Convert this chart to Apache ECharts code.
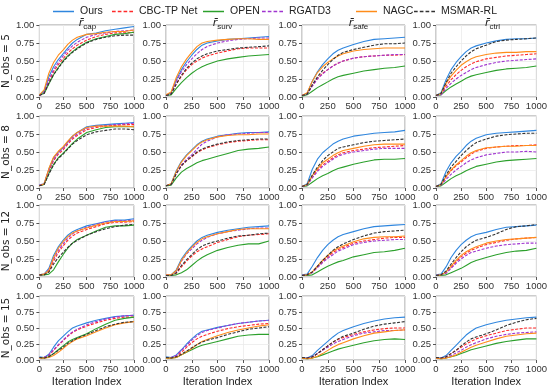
<!DOCTYPE html>
<html><head><meta charset="utf-8">
<script src="https://cdn.jsdelivr.net/npm/echarts@6/dist/echarts.min.js"></script>
<style>html,body{margin:0;padding:0;background:#fff}#c{width:550px;height:388px}</style>
</head><body><div id="c"></div>
<script>
// ---- data ----
const iters = [0,50,100,150,200,250,300,350,400,500,600,700,800,900,1000];
const methods = ['Ours','CBC-TP Net','OPEN','RGATD3','NAGC','MSMAR-RL'];
const rowLabels = ['N_obs = 5','N_obs = 8','N_obs = 12','N_obs = 15'];
const metricSubs = ['cap','surv','safe','ctrl'];
const xTickStep = 250;
const yTickStep = 0.25;
const xAxisTitle = 'Iteration Index';

// each panel: rows in method order (Ours, CBC-TP Net, OPEN, RGATD3, NAGC, MSMAR-RL)
const n5_cap = [
 [0.03,0.08,0.28,0.42,0.52,0.60,0.68,0.75,0.80,0.87,0.89,0.92,0.94,0.96,0.98],
 [0.02,0.06,0.22,0.35,0.45,0.53,0.61,0.67,0.72,0.79,0.84,0.87,0.89,0.89,0.90],
 [0.03,0.05,0.18,0.31,0.41,0.50,0.57,0.63,0.68,0.76,0.81,0.84,0.87,0.88,0.90],
 [0.02,0.06,0.24,0.38,0.48,0.57,0.65,0.71,0.76,0.83,0.87,0.89,0.91,0.92,0.93],
 [0.03,0.10,0.33,0.48,0.58,0.65,0.73,0.79,0.83,0.87,0.88,0.90,0.91,0.91,0.93],
 [0.02,0.05,0.19,0.31,0.40,0.49,0.56,0.62,0.67,0.75,0.80,0.83,0.85,0.86,0.86]];
const n5_surv = [
 [0.02,0.06,0.24,0.38,0.49,0.58,0.66,0.72,0.75,0.78,0.80,0.81,0.82,0.83,0.84],
 [0.02,0.04,0.18,0.29,0.38,0.45,0.50,0.54,0.57,0.61,0.64,0.67,0.68,0.68,0.68],
 [0.02,0.03,0.12,0.20,0.27,0.33,0.38,0.42,0.45,0.50,0.53,0.55,0.57,0.58,0.59],
 [0.02,0.05,0.22,0.35,0.45,0.53,0.60,0.66,0.70,0.75,0.78,0.80,0.81,0.82,0.82],
 [0.03,0.07,0.27,0.42,0.53,0.62,0.70,0.75,0.77,0.79,0.80,0.81,0.81,0.80,0.80],
 [0.02,0.04,0.18,0.30,0.40,0.47,0.53,0.57,0.60,0.64,0.66,0.68,0.69,0.70,0.71]];
const n5_safe = [
 [0.02,0.05,0.22,0.35,0.45,0.53,0.60,0.65,0.68,0.73,0.77,0.80,0.81,0.82,0.83],
 [0.02,0.04,0.16,0.26,0.33,0.38,0.43,0.47,0.50,0.54,0.56,0.57,0.58,0.58,0.59],
 [0.01,0.03,0.08,0.13,0.17,0.21,0.25,0.28,0.30,0.33,0.36,0.38,0.40,0.41,0.43],
 [0.02,0.04,0.15,0.25,0.32,0.38,0.43,0.47,0.50,0.54,0.56,0.57,0.58,0.59,0.59],
 [0.02,0.06,0.22,0.34,0.42,0.48,0.53,0.57,0.60,0.64,0.66,0.67,0.68,0.68,0.68],
 [0.02,0.04,0.17,0.28,0.37,0.45,0.52,0.58,0.62,0.66,0.69,0.72,0.74,0.74,0.75]];
const n5_ctrl = [
 [0.02,0.06,0.24,0.38,0.48,0.56,0.63,0.68,0.71,0.75,0.78,0.80,0.81,0.81,0.82],
 [0.02,0.04,0.15,0.24,0.31,0.37,0.42,0.46,0.49,0.53,0.55,0.57,0.58,0.59,0.60],
 [0.02,0.03,0.09,0.14,0.18,0.22,0.26,0.29,0.31,0.34,0.37,0.39,0.40,0.41,0.43],
 [0.02,0.03,0.12,0.19,0.25,0.30,0.34,0.38,0.41,0.45,0.48,0.50,0.51,0.52,0.53],
 [0.02,0.05,0.19,0.29,0.37,0.44,0.49,0.53,0.56,0.59,0.61,0.62,0.62,0.63,0.63],
 [0.02,0.05,0.20,0.33,0.42,0.50,0.57,0.63,0.67,0.72,0.77,0.79,0.80,0.81,0.82]];
const n8_cap = [
 [0.04,0.06,0.26,0.42,0.50,0.56,0.64,0.72,0.77,0.85,0.87,0.88,0.89,0.90,0.91],
 [0.03,0.05,0.23,0.38,0.47,0.53,0.61,0.68,0.73,0.81,0.84,0.86,0.87,0.88,0.88],
 [0.03,0.05,0.20,0.33,0.42,0.48,0.55,0.62,0.68,0.77,0.81,0.84,0.85,0.85,0.85],
 [0.04,0.06,0.25,0.40,0.49,0.55,0.63,0.70,0.75,0.83,0.86,0.87,0.88,0.89,0.90],
 [0.03,0.06,0.27,0.43,0.51,0.57,0.65,0.72,0.77,0.84,0.86,0.86,0.86,0.86,0.85],
 [0.03,0.05,0.19,0.32,0.41,0.47,0.54,0.61,0.66,0.74,0.78,0.80,0.82,0.82,0.81]];
const n8_surv = [
 [0.03,0.06,0.24,0.37,0.46,0.53,0.60,0.65,0.68,0.72,0.74,0.76,0.77,0.77,0.78],
 [0.03,0.05,0.20,0.31,0.38,0.43,0.49,0.53,0.56,0.60,0.63,0.65,0.66,0.67,0.67],
 [0.03,0.04,0.14,0.22,0.27,0.31,0.35,0.38,0.40,0.44,0.48,0.52,0.54,0.55,0.57],
 [0.03,0.05,0.20,0.32,0.40,0.46,0.54,0.61,0.65,0.71,0.74,0.75,0.76,0.77,0.77],
 [0.03,0.06,0.23,0.36,0.45,0.52,0.59,0.64,0.67,0.71,0.73,0.74,0.74,0.75,0.75],
 [0.03,0.05,0.20,0.31,0.38,0.44,0.50,0.54,0.57,0.61,0.64,0.66,0.67,0.68,0.68]];
const n8_safe = [
 [0.02,0.06,0.26,0.40,0.49,0.55,0.61,0.65,0.68,0.72,0.74,0.76,0.77,0.78,0.80],
 [0.02,0.04,0.15,0.25,0.32,0.37,0.42,0.46,0.49,0.52,0.54,0.56,0.57,0.58,0.59],
 [0.02,0.03,0.08,0.13,0.17,0.20,0.24,0.27,0.29,0.33,0.36,0.39,0.40,0.40,0.41],
 [0.02,0.04,0.14,0.23,0.30,0.35,0.40,0.44,0.47,0.50,0.52,0.54,0.55,0.55,0.55],
 [0.02,0.05,0.17,0.27,0.35,0.40,0.45,0.49,0.52,0.55,0.58,0.60,0.61,0.61,0.61],
 [0.02,0.05,0.18,0.29,0.38,0.45,0.50,0.55,0.57,0.60,0.63,0.65,0.66,0.67,0.68]];
const n8_ctrl = [
 [0.02,0.06,0.23,0.35,0.44,0.51,0.59,0.65,0.69,0.74,0.76,0.77,0.78,0.79,0.80],
 [0.02,0.04,0.15,0.24,0.31,0.36,0.42,0.47,0.51,0.55,0.57,0.58,0.59,0.59,0.60],
 [0.02,0.03,0.08,0.13,0.17,0.20,0.24,0.27,0.30,0.33,0.36,0.38,0.39,0.40,0.41],
 [0.02,0.04,0.12,0.19,0.25,0.30,0.35,0.39,0.42,0.46,0.48,0.50,0.50,0.51,0.50],
 [0.02,0.05,0.16,0.25,0.32,0.38,0.44,0.49,0.52,0.56,0.57,0.58,0.58,0.59,0.59],
 [0.02,0.05,0.18,0.29,0.37,0.45,0.52,0.58,0.63,0.68,0.72,0.74,0.75,0.76,0.76]];
const n12_cap = [
 [0.03,0.04,0.12,0.30,0.42,0.51,0.58,0.63,0.66,0.71,0.74,0.77,0.79,0.79,0.81],
 [0.03,0.03,0.07,0.22,0.34,0.43,0.51,0.57,0.61,0.66,0.70,0.74,0.76,0.76,0.77],
 [0.03,0.03,0.04,0.10,0.21,0.31,0.40,0.47,0.52,0.58,0.64,0.69,0.71,0.71,0.72],
 [0.03,0.04,0.10,0.25,0.37,0.46,0.54,0.60,0.64,0.69,0.73,0.76,0.78,0.78,0.79],
 [0.03,0.04,0.09,0.27,0.40,0.49,0.56,0.61,0.64,0.68,0.72,0.75,0.77,0.77,0.78],
 [0.03,0.03,0.07,0.18,0.27,0.34,0.41,0.47,0.51,0.58,0.63,0.67,0.70,0.72,0.73]];
const n12_surv = [
 [0.03,0.03,0.10,0.25,0.35,0.43,0.50,0.55,0.58,0.62,0.65,0.67,0.69,0.70,0.71],
 [0.02,0.02,0.05,0.14,0.22,0.29,0.35,0.39,0.42,0.48,0.52,0.56,0.58,0.59,0.60],
 [0.02,0.02,0.03,0.06,0.10,0.16,0.22,0.27,0.31,0.37,0.41,0.44,0.46,0.46,0.50],
 [0.03,0.03,0.08,0.22,0.32,0.39,0.46,0.51,0.55,0.60,0.63,0.65,0.67,0.68,0.68],
 [0.03,0.03,0.09,0.23,0.33,0.41,0.48,0.53,0.56,0.60,0.63,0.66,0.67,0.67,0.67],
 [0.02,0.02,0.06,0.16,0.24,0.31,0.38,0.43,0.46,0.50,0.54,0.57,0.58,0.60,0.61]];
const n12_safe = [
 [0.03,0.04,0.15,0.27,0.37,0.45,0.51,0.56,0.59,0.63,0.67,0.70,0.71,0.72,0.73],
 [0.02,0.03,0.07,0.14,0.21,0.28,0.34,0.38,0.41,0.47,0.50,0.52,0.54,0.55,0.55],
 [0.02,0.02,0.03,0.07,0.11,0.15,0.18,0.21,0.23,0.28,0.31,0.34,0.35,0.37,0.40],
 [0.02,0.03,0.06,0.13,0.20,0.26,0.31,0.36,0.39,0.45,0.48,0.50,0.51,0.52,0.52],
 [0.02,0.03,0.07,0.15,0.23,0.30,0.36,0.40,0.43,0.49,0.53,0.55,0.56,0.56,0.57],
 [0.02,0.03,0.07,0.15,0.23,0.30,0.37,0.42,0.46,0.52,0.57,0.61,0.63,0.64,0.65]];
const n12_ctrl = [
 [0.03,0.04,0.14,0.27,0.37,0.45,0.51,0.56,0.59,0.62,0.66,0.69,0.70,0.71,0.72],
 [0.02,0.03,0.06,0.13,0.21,0.28,0.33,0.37,0.40,0.45,0.48,0.51,0.53,0.54,0.55],
 [0.02,0.02,0.03,0.06,0.09,0.12,0.16,0.20,0.23,0.27,0.31,0.34,0.36,0.37,0.40],
 [0.02,0.03,0.05,0.12,0.19,0.25,0.30,0.34,0.36,0.40,0.43,0.45,0.46,0.47,0.47],
 [0.02,0.03,0.07,0.15,0.23,0.30,0.35,0.39,0.42,0.47,0.50,0.52,0.53,0.54,0.55],
 [0.02,0.03,0.08,0.18,0.27,0.35,0.42,0.47,0.51,0.55,0.60,0.66,0.70,0.71,0.73]];
const n15_cap = [
 [0.05,0.04,0.09,0.20,0.30,0.37,0.44,0.50,0.53,0.58,0.62,0.65,0.68,0.69,0.70],
 [0.04,0.04,0.07,0.15,0.23,0.30,0.37,0.43,0.47,0.53,0.58,0.62,0.65,0.67,0.67],
 [0.04,0.03,0.05,0.10,0.16,0.22,0.28,0.32,0.35,0.41,0.49,0.56,0.62,0.65,0.67],
 [0.04,0.04,0.08,0.16,0.24,0.31,0.38,0.44,0.48,0.55,0.60,0.64,0.67,0.69,0.70],
 [0.03,0.03,0.04,0.07,0.12,0.18,0.24,0.29,0.33,0.38,0.44,0.50,0.55,0.58,0.60],
 [0.04,0.03,0.05,0.10,0.15,0.20,0.26,0.30,0.34,0.40,0.46,0.52,0.56,0.59,0.60]];
const n15_surv = [
 [0.05,0.04,0.08,0.16,0.25,0.33,0.40,0.45,0.47,0.51,0.54,0.57,0.59,0.61,0.62],
 [0.04,0.03,0.06,0.12,0.20,0.27,0.33,0.37,0.40,0.45,0.49,0.52,0.54,0.56,0.57],
 [0.03,0.03,0.04,0.08,0.12,0.16,0.20,0.23,0.25,0.29,0.33,0.37,0.39,0.40,0.40],
 [0.04,0.04,0.07,0.15,0.23,0.31,0.38,0.43,0.46,0.50,0.54,0.57,0.59,0.61,0.62],
 [0.03,0.03,0.04,0.08,0.13,0.18,0.24,0.29,0.32,0.38,0.43,0.47,0.50,0.53,0.55],
 [0.04,0.03,0.05,0.09,0.14,0.19,0.24,0.28,0.31,0.35,0.40,0.44,0.48,0.50,0.52]];
const n15_safe = [
 [0.04,0.03,0.07,0.15,0.22,0.29,0.36,0.42,0.46,0.52,0.57,0.61,0.64,0.66,0.67],
 [0.04,0.03,0.05,0.10,0.16,0.22,0.28,0.32,0.35,0.40,0.44,0.47,0.49,0.50,0.50],
 [0.03,0.02,0.03,0.05,0.08,0.11,0.14,0.17,0.19,0.23,0.27,0.30,0.32,0.33,0.32],
 [0.04,0.03,0.05,0.10,0.15,0.20,0.25,0.29,0.32,0.38,0.42,0.44,0.46,0.46,0.47],
 [0.03,0.02,0.03,0.06,0.10,0.15,0.20,0.24,0.27,0.33,0.38,0.42,0.44,0.46,0.47],
 [0.04,0.03,0.05,0.10,0.16,0.22,0.28,0.33,0.37,0.42,0.48,0.53,0.56,0.58,0.60]];
const n15_ctrl = [
 [0.04,0.03,0.07,0.15,0.23,0.31,0.39,0.45,0.50,0.55,0.59,0.62,0.64,0.66,0.67],
 [0.03,0.03,0.05,0.10,0.15,0.20,0.25,0.29,0.33,0.38,0.42,0.46,0.48,0.50,0.50],
 [0.03,0.02,0.03,0.05,0.07,0.10,0.13,0.16,0.18,0.22,0.26,0.29,0.31,0.33,0.33],
 [0.03,0.03,0.04,0.07,0.11,0.15,0.20,0.24,0.27,0.33,0.37,0.40,0.42,0.43,0.44],
 [0.03,0.02,0.03,0.05,0.08,0.12,0.16,0.20,0.23,0.28,0.33,0.37,0.39,0.41,0.42],
 [0.04,0.03,0.05,0.10,0.15,0.22,0.28,0.33,0.36,0.41,0.47,0.54,0.59,0.63,0.65]];

const panels = [
  [n5_cap, n5_surv, n5_safe, n5_ctrl],
  [n8_cap, n8_surv, n8_safe, n8_ctrl],
  [n12_cap, n12_surv, n12_safe, n12_ctrl],
  [n15_cap, n15_surv, n15_safe, n15_ctrl]
];

// ---- style ----
const FONT = "'Liberation Sans','DejaVu Sans',sans-serif";
const colors = ['#2f86de','#ff2a2a','#2ca02c','#a035d0','#ff8c1a','#333333'];
const dashed = [false,true,false,true,false,true];
const colLeft = [31,166,302,436];
const rowTop = [25,116,205,296];
const PW = 103, PH = 72;
const legendLeft = [48,107,198,257,351,409];
const ICON_SOLID = 'path://M0,0H20V1H0Z';
const ICON_DASH = 'path://M0,0H3.5V1H0Z M5.5,0H9V1H5.5Z M11,0H14.5V1H11Z M16.5,0H20V1H16.5Z';

const grids=[], xAxes=[], yAxes=[], series=[], titles=[];
for (let r=0;r<4;r++){
  for (let c=0;c<4;c++){
    const gi = r*4+c;
    grids.push({left:colLeft[c], top:rowTop[r], width:PW, height:PH, show:true, borderColor:'#9a9a9a', borderWidth:1, backgroundColor:'transparent'});
    xAxes.push({gridIndex:gi, type:'value', min:0, max:1000, interval:xTickStep,
      axisLine:{show:false}, axisTick:{show:true,length:3,lineStyle:{color:'#555'}},
      axisLabel:{fontSize:9.5, color:'#333', fontFamily:FONT, margin:4, showMaxLabel:true, showMinLabel:true, formatter:v=>String(v)},
      splitLine:{show:true, lineStyle:{color:'#ebebeb', width:0.8}},
      name: r===3 ? xAxisTitle : '', nameLocation:'middle', nameGap:16,
      nameTextStyle:{fontSize:11, color:'#222', fontFamily:FONT}});
    yAxes.push({gridIndex:gi, type:'value', min:0, max:1, interval:yTickStep,
      axisLine:{show:false}, axisTick:{show:true,length:3,lineStyle:{color:'#555'}},
      axisLabel:{fontSize:9.5, color:'#333', fontFamily:FONT, margin:5, formatter:v=>v.toFixed(2)},
      splitLine:{show:true, lineStyle:{color:'#ebebeb', width:0.8}},
      name: c===0 ? rowLabels[r] : '', nameLocation:'middle', nameGap:21,
      nameTextStyle:{fontSize:10.5, color:'#222', fontFamily:"'DejaVu Sans',sans-serif"}});
    const P = panels[r][c];
    for (let m=0;m<6;m++){
      series.push({name:methods[m], type:'line', xAxisIndex:gi, yAxisIndex:gi,
        data: iters.map((x,k)=>[x,P[m][k]]), symbol:'none', silent:true,
        lineStyle:{color:colors[m], width:1.1, type: dashed[m] ? [3,1.5] : 'solid'},
        itemStyle:{color:colors[m]}});
    }
  }
}
for (let c=0;c<4;c++){
  titles.push({text:'{r|r\u0304}{s|'+metricSubs[c]+'}', left:colLeft[c]+PW/2, top:10, textAlign:'center',
    textStyle:{fontFamily:FONT, fontWeight:'normal', rich:{
      r:{fontSize:11, fontStyle:'italic', fontWeight:'normal', color:'#222', fontFamily:"'DejaVu Sans',sans-serif", lineHeight:16, verticalAlign:'middle'},
      s:{fontSize:8, fontWeight:'normal', color:'#222', fontFamily:FONT, lineHeight:16, verticalAlign:'bottom'}}}});
}
const legends = methods.map((n,i)=>({data:[{name:n, icon: dashed[i] ? ICON_DASH : ICON_SOLID}],
  left:legendLeft[i], top:1, itemWidth:21, itemHeight:1.5, itemGap:0, symbolKeepAspect:false,
  textStyle:{fontSize:10.5, color:'#222', fontFamily:FONT, padding:[0,0,0,1]}, selectedMode:false}));

const chart = echarts.init(document.getElementById('c'), null, {renderer:'canvas'});
chart.setOption({animation:false, title:titles, legend:legends, grid:grids, xAxis:xAxes, yAxis:yAxes, series:series});
</script></body></html>
